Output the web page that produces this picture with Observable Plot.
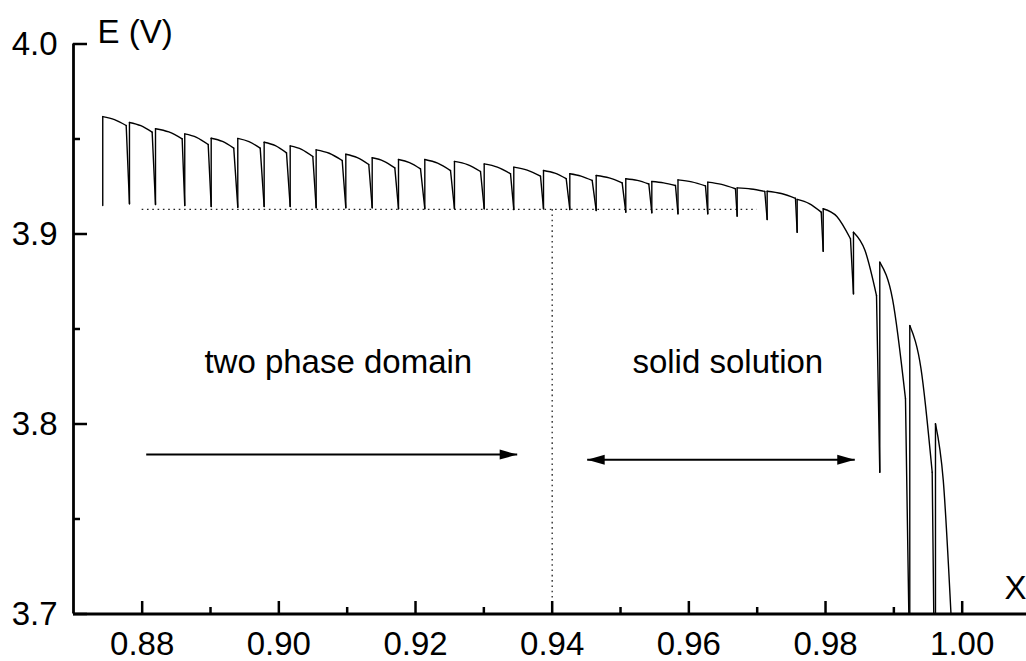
<!DOCTYPE html>
<html>
<head>
<meta charset="utf-8">
<script src="https://cdn.jsdelivr.net/npm/d3@7"></script>
<script src="https://cdn.jsdelivr.net/npm/@observablehq/plot@0.6"></script>
<style>
  html, body { margin: 0; padding: 0; background: #fff; overflow: hidden; }
</style>
</head>
<body>
<script>
// ---------- data ----------
// sawtooth (GITT-like) potential curve: one entry per pulse
const riseX = [0.87423, 0.87814, 0.88195, 0.88623, 0.89010, 0.89399, 0.89785, 0.90166, 0.90546, 0.90980, 0.91366, 0.91751, 0.92136, 0.92570, 0.93005, 0.93438, 0.93873, 0.94258, 0.94644, 0.95077, 0.95458, 0.95841, 0.96277, 0.96707, 0.97146, 0.97585, 0.97966, 0.98409, 0.98794, 0.99233, 0.99609];
const topE  = [3.9618, 3.9587, 3.9554, 3.9527, 3.9504, 3.9503, 3.9483, 3.9464, 3.9443, 3.9420, 3.9401, 3.9392, 3.9392, 3.9382, 3.9369, 3.9352, 3.9334, 3.9317, 3.9308, 3.9291, 3.9276, 3.9285, 3.9273, 3.9243, 3.9225, 3.9182, 3.9133, 3.9009, 3.8852, 3.8518, 3.8001];
const midX  = [0.87595, 0.87980, 0.88390, 0.88795, 0.89175, 0.89563, 0.89949, 0.90332, 0.90737, 0.91148, 0.91532, 0.91912, 0.92324, 0.92761, 0.93198, 0.93634, 0.94039, 0.94422, 0.94834, 0.95246, 0.95631, 0.96042, 0.96480, 0.96909, 0.97353, 0.97761, 0.98166, 0.98578, 0.98982, 0.99397, 0.99723];
const midE  = [3.9602, 3.9570, 3.9537, 3.9509, 3.9487, 3.9486, 3.9465, 3.9446, 3.9425, 3.9402, 3.9384, 3.9376, 3.9373, 3.9365, 3.9352, 3.9336, 3.9320, 3.9305, 3.9295, 3.9282, 3.9269, 3.9274, 3.9261, 3.9237, 3.9213, 3.9160, 3.9092, 3.8913, 3.8655, 3.8292, 3.7703];
const endX  = [0.87766, 0.88146, 0.88585, 0.88966, 0.89340, 0.89727, 0.90112, 0.90497, 0.90927, 0.91316, 0.91697, 0.92073, 0.92512, 0.92951, 0.93390, 0.93829, 0.94205, 0.94585, 0.95024, 0.95414, 0.95804, 0.96243, 0.96682, 0.97111, 0.97560, 0.97937, 0.98365, 0.98746, 0.99170, 0.99561, 0.99836];
const endE  = [3.9571, 3.9536, 3.9501, 3.9471, 3.9452, 3.9452, 3.9427, 3.9408, 3.9387, 3.9366, 3.9348, 3.9343, 3.9334, 3.9329, 3.9317, 3.9304, 3.9291, 3.9282, 3.9269, 3.9263, 3.9255, 3.9253, 3.9238, 3.9224, 3.9188, 3.9115, 3.8975, 3.8676, 3.8133, 3.7746, 3.7000];
// relaxation drop at the end of each pulse
const dropX = [0.87814, 0.88195, 0.88623, 0.89010, 0.89399, 0.89785, 0.90166, 0.90546, 0.90980, 0.91366, 0.91751, 0.92136, 0.92570, 0.93005, 0.93438, 0.93873, 0.94258, 0.94644, 0.95077, 0.95458, 0.95841, 0.96277, 0.96707, 0.97146, 0.97585, 0.97966, 0.98409, 0.98794, 0.99219, 0.99584];
const dropE = [3.9159, 3.9155, 3.9150, 3.9145, 3.9141, 3.9145, 3.9145, 3.9138, 3.9138, 3.9138, 3.9133, 3.9133, 3.9133, 3.9133, 3.9129, 3.9133, 3.9129, 3.9124, 3.9115, 3.9112, 3.9106, 3.9106, 3.9094, 3.9076, 3.9009, 3.8909, 3.8685, 3.7746, 3.7000, 3.7000];
const startE = 3.9150;

// reference dotted lines
const plateauE = 3.913;
const plateauRange = [0.88, 0.97];
const boundaryX = 0.94;

// arrows
const arrowFrom = [0.88059, 0.94512];
const arrowTo   = [0.93488, 0.98428];
const arrowE    = [3.7839, 3.7812];
const arrowBoth = [false, true];

// annotations
const labels = ["two phase domain", "solid solution"];
const labelX = [0.9087, 0.9657];
const labelE = [3.8271, 3.8271];

// axes
const xMajor = [0.88, 0.90, 0.92, 0.94, 0.96, 0.98, 1.00];
const xMinor = [0.89, 0.91, 0.93, 0.95, 0.97, 0.99];
const yMajor = [3.7, 3.8, 3.9, 4.0];
const yMinor = [3.75, 3.85, 3.95];
const xDomain = [0.86995, 1.00941];
const yDomain = [3.7, 4.0];

// ---------- layout ----------
const W = 1026, H = 661, ML = 73, MR = 0, MT = 43.5, MB = 47.5;
const frameW = W - ML - MR, frameH = H - MT - MB;

// ---------- derived tables ----------
const arcs = riseX.flatMap((x, i) => [
  {i, x, y: topE[i]},
  {i, x: midX[i], y: midE[i]},
  {i, x: endX[i], y: endE[i]}
]);
const rises = riseX.map((x, i) => ({x, y1: i ? dropE[i - 1] : startE, y2: topE[i]}));
const drops = dropX.map((x, i) => ({x1: endX[i], y1: endE[i], x2: x, y2: dropE[i]}));
const arrows = arrowFrom.map((x1, i) => ({x1, x2: arrowTo[i], y: arrowE[i], both: arrowBoth[i]}));
const notes = labels.map((t, i) => ({t, x: labelX[i], y: labelE[i]}));

const headRight = {draw(ctx) { ctx.moveTo(0, 0); ctx.lineTo(-17.5, -5); ctx.lineTo(-17.5, 5); ctx.closePath(); }};
const headLeft  = {draw(ctx) { ctx.moveTo(0, 0); ctx.lineTo(17.5, -5); ctx.lineTo(17.5, 5); ctx.closePath(); }};

const chart = Plot.plot({
  width: W, height: H,
  marginLeft: ML, marginRight: MR, marginTop: MT, marginBottom: MB,
  x: {domain: xDomain},
  y: {domain: yDomain},
  style: {fontFamily: "'Liberation Sans', Arial, Helvetica, sans-serif", fontSize: "33px", background: "#fff", color: "#000", overflow: "visible"},
  marks: [
    // dotted guide lines
    Plot.ruleY([plateauE], {x1: plateauRange[0], x2: plateauRange[1], stroke: "#222", strokeWidth: 1.3, strokeDasharray: "1.6,3.7"}),
    Plot.ruleX([boundaryX], {y1: yDomain[0], y2: plateauE, stroke: "#222", strokeWidth: 1.3, strokeDasharray: "1.6,3.7"}),
    // curve
    Plot.line(arcs, {x: "x", y: "y", z: "i", curve: "monotone-x", stroke: "#000", strokeWidth: 1.4}),
    Plot.link(rises, {x1: "x", x2: "x", y1: "y1", y2: "y2", stroke: "#000", strokeWidth: 1.4, strokeLinecap: "round"}),
    Plot.link(drops, {x1: "x1", y1: "y1", x2: "x2", y2: "y2", stroke: "#000", strokeWidth: 1.4, strokeLinecap: "round"}),
    // arrows
    Plot.link(arrows, {x1: "x1", x2: "x2", y1: "y", y2: "y", stroke: "#000", strokeWidth: 2}),
    Plot.dot(arrows, {x: "x2", y: "y", symbol: headRight, fill: "#000", stroke: "none"}),
    Plot.dot(arrows.filter(d => d.both), {x: "x1", y: "y", symbol: headLeft, fill: "#000", stroke: "none"}),
    // annotations
    Plot.text(notes, {x: "x", y: "y", text: "t", textAnchor: "middle", lineAnchor: "bottom", fill: "#000"}),
    // axis lines
    Plot.ruleX([xDomain[0]], {stroke: "#000", strokeWidth: 2.8}),
    Plot.ruleY([yDomain[0]], {stroke: "#000", strokeWidth: 2.8}),
    // inward ticks
    Plot.tickX(xMajor, {x: d => d, insetTop: frameH - 12.5, stroke: "#000", strokeWidth: 2.5}),
    Plot.tickX(xMinor, {x: d => d, insetTop: frameH - 6.5, stroke: "#000", strokeWidth: 2.5}),
    Plot.tickY(yMajor, {y: d => d, insetRight: frameW - 14, stroke: "#000", strokeWidth: 2.5}),
    Plot.tickY(yMinor, {y: d => d, insetRight: frameW - 7, stroke: "#000", strokeWidth: 2.5}),
    // tick labels
    Plot.axisX(xMajor, {anchor: "bottom", tickSize: 0, tickPadding: 18, tickFormat: d3.format(".2f"), label: null}),
    Plot.axisY(yMajor, {anchor: "left", tickSize: 0, tickPadding: 16, tickFormat: d3.format(".1f"), label: null}),
    // axis titles
    Plot.text(["E (V)"], {frameAnchor: "top-left", textAnchor: "start", lineAnchor: "bottom", dx: 24, dy: -1.5, fill: "#000"}),
    Plot.text(["X"], {frameAnchor: "bottom-right", textAnchor: "end", lineAnchor: "bottom", dx: 0, dy: -15, fill: "#000"})
  ]
});
document.body.append(chart);
</script>
</body>
</html>
